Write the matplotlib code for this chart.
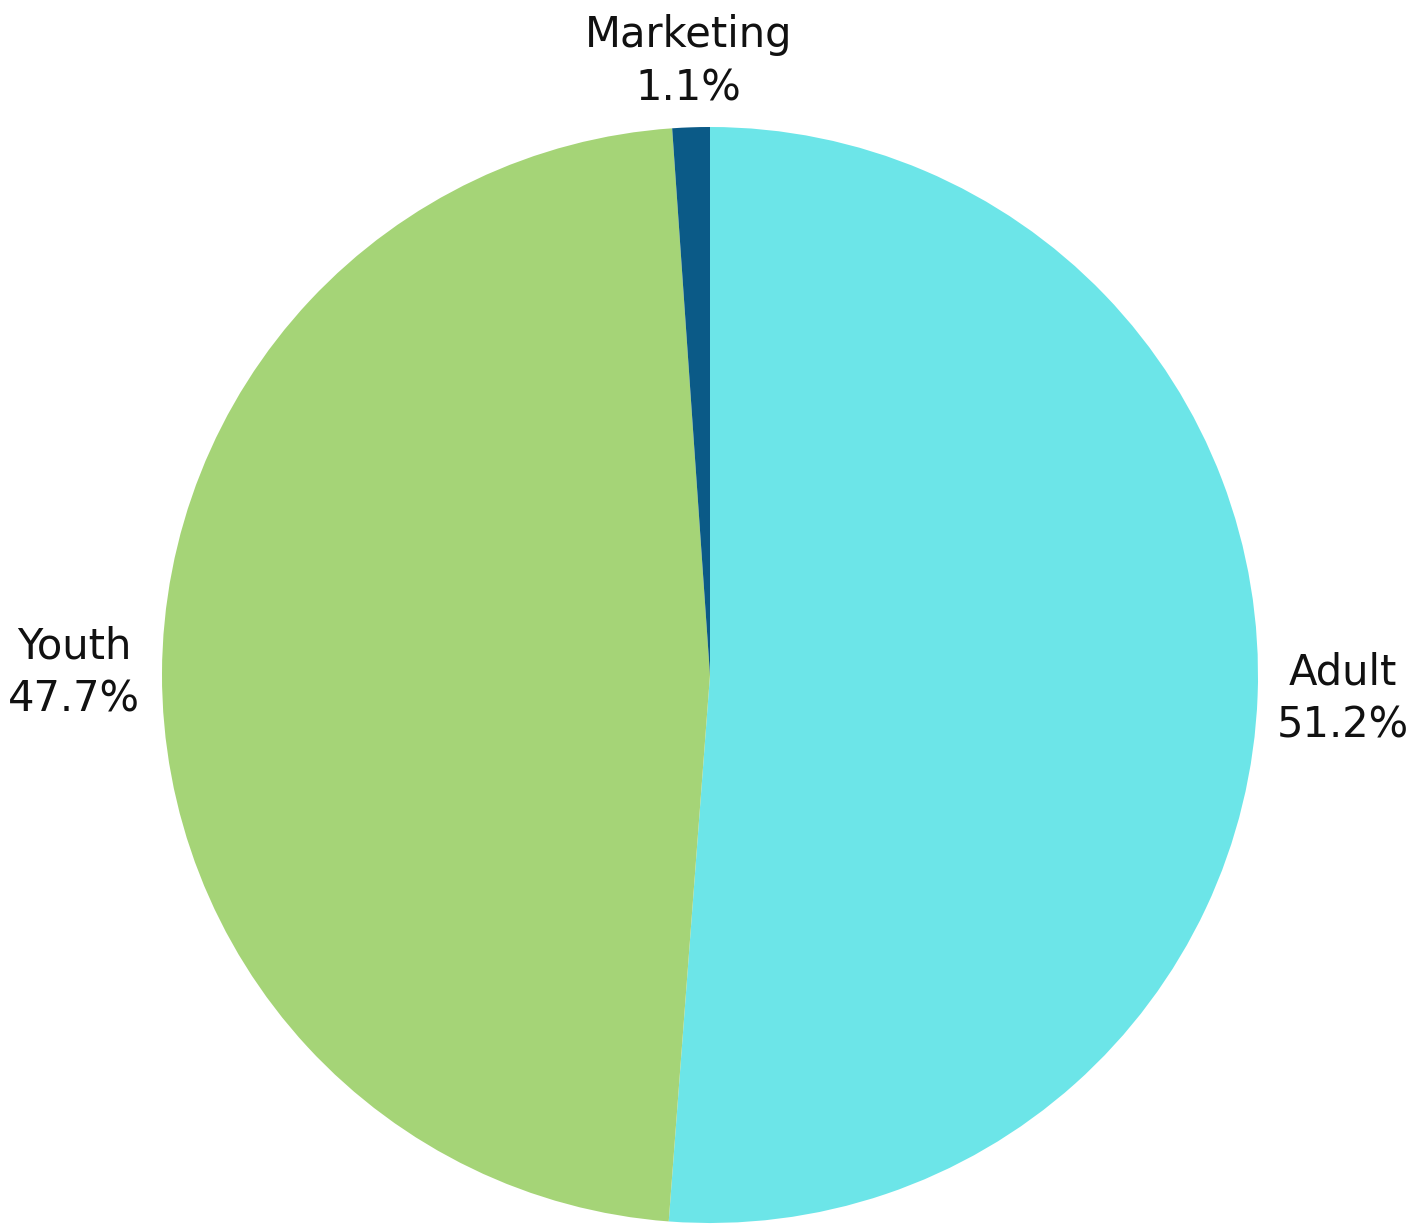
import matplotlib
matplotlib.use("Agg")
import matplotlib.pyplot as plt
import numpy as np

labels = ["Adult", "Youth", "Marketing"]
values = [51.2, 47.7, 1.1]
colors = ["#6CE5E8", "#A5D477", "#0B5A87"]
label_dist = [1.155, 1.16, 1.12]

W, H = 1421, 1224
fig = plt.figure(figsize=(W / 100, H / 100), dpi=100)
cx, cy, r = 710, 675, 548
ax = fig.add_axes([(cx - r) / W, (H - cy - r) / H, 2 * r / W, 2 * r / H])
wedges, _ = ax.pie(values, colors=colors, startangle=90, counterclock=False,
                   radius=1, wedgeprops=dict(linewidth=0))
ax.set_xlim(-1, 1)
ax.set_ylim(-1, 1)
ax.axis("off")

for w, lab, v, d in zip(wedges, labels, values, label_dist):
    ang = np.deg2rad((w.theta1 + w.theta2) / 2)
    x, y = d * np.cos(ang), d * np.sin(ang)
    ax.text(x, y, f"{lab}\n{v:.1f}%", ha="center", va="center",
            fontsize=30, family="DejaVu Sans", linespacing=1.35,
            color="#111111", clip_on=False)

fig.savefig("out.png", dpi=100, facecolor="white")
